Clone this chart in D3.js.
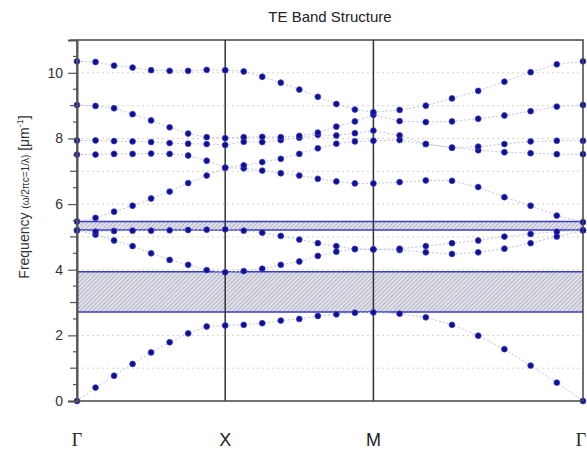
<!DOCTYPE html>
<html>
<head>
<meta charset="utf-8">
<script src="https://cdn.jsdelivr.net/npm/d3@7"></script>
<style>
  body { margin: 0; background: #fff; }
  svg { display: block; font-family: "Liberation Sans", Arial, sans-serif; }
</style>
</head>
<body>
<svg id="chart" width="587" height="451"></svg>
<script>
// symmetry points along the path
var kLabels = ["\u0393", "X", "M", "\u0393"];
var kStops = [0, 1, 2, 2 + Math.SQRT2];

// bands, 9 samples per segment (Γ-X, X-M, M-Γ)
var bandsGX = [
    [0, 0.41, 0.77, 1.13, 1.48, 1.79, 2.06, 2.27, 2.30],
    [5.20, 5.07, 4.89, 4.72, 4.50, 4.30, 4.15, 3.99, 3.92],
    [5.20, 5.16, 5.18, 5.19, 5.19, 5.20, 5.21, 5.22, 5.23],
    [5.47, 5.58, 5.77, 5.95, 6.17, 6.38, 6.64, 6.87, 7.11],
    [7.51, 7.51, 7.53, 7.53, 7.54, 7.53, 7.48, 7.32, 7.11],
    [7.94, 7.94, 7.92, 7.91, 7.89, 7.86, 7.84, 7.83, 7.80],
    [9.02, 8.99, 8.92, 8.74, 8.55, 8.34, 8.15, 8.04, 8.01],
    [10.35, 10.33, 10.22, 10.16, 10.08, 10.06, 10.06, 10.09, 10.08]
];
var bandsXM = [
    [2.30, 2.32, 2.37, 2.45, 2.50, 2.59, 2.64, 2.69, 2.70],
    [3.92, 3.96, 4.03, 4.15, 4.25, 4.42, 4.55, 4.63, 4.62],
    [5.23, 5.19, 5.13, 5.03, 4.92, 4.81, 4.72, 4.63, 4.62],
    [7.11, 7.09, 7.02, 6.94, 6.87, 6.77, 6.69, 6.63, 6.63],
    [7.11, 7.18, 7.28, 7.38, 7.53, 7.70, 7.84, 7.91, 7.93],
    [7.80, 7.90, 7.89, 7.95, 8.02, 8.11, 8.09, 8.16, 8.24],
    [8.01, 8.04, 8.05, 8.04, 8.08, 8.18, 8.36, 8.52, 8.72],
    [10.08, 10.04, 9.88, 9.70, 9.49, 9.27, 9.05, 8.88, 8.80]
];
var bandsMG = [
    [2.70, 2.66, 2.55, 2.32, 1.99, 1.58, 1.08, 0.56, 0],
    [4.62, 4.60, 4.53, 4.48, 4.53, 4.64, 4.81, 5.01, 5.20],
    [4.62, 4.64, 4.72, 4.81, 4.89, 5.01, 5.09, 5.16, 5.20],
    [6.63, 6.67, 6.72, 6.71, 6.52, 6.21, 5.95, 5.65, 5.45],
    [7.93, 7.95, 7.83, 7.72, 7.64, 7.58, 7.55, 7.52, 7.52],
    [8.24, 8.09, 7.83, 7.72, 7.75, 7.83, 7.91, 7.93, 7.93],
    [8.72, 8.53, 8.50, 8.52, 8.60, 8.70, 8.83, 8.97, 9.02],
    [8.80, 8.87, 9.00, 9.22, 9.45, 9.73, 10.02, 10.26, 10.35]
];

// photonic band gaps
var gaps = [[2.71, 3.94], [5.21, 5.47]];

var yTicks = [0, 2, 4, 6, 8, 10];
var gridValues = [1, 2, 3, 4, 5, 6, 7, 8, 9, 10];

var svg = d3.select("#chart");
var x = d3.scaleLinear().domain([0, kStops[3]]).range([77, 583]);
var y = d3.scaleLinear().domain([0, 11]).range([401, 40]);

// hatch for the gaps
var defs = svg.append("defs");
var pat = defs.append("pattern")
    .attr("id", "hatch")
    .attr("patternUnits", "userSpaceOnUse")
    .attr("width", 3).attr("height", 3)
    .attr("patternTransform", "rotate(45)");
pat.append("rect").attr("width", 3).attr("height", 3).attr("fill", "#e2e2ea");
pat.append("line").attr("x1", 0).attr("y1", 0).attr("x2", 0).attr("y2", 3)
    .attr("stroke", "#9494ae").attr("stroke-width", 1.2);

// grid
svg.append("g").selectAll("line")
    .data(gridValues)
    .enter().append("line")
    .attr("x1", x(0)).attr("x2", x(kStops[3]))
    .attr("y1", function (d) { return y(d); })
    .attr("y2", function (d) { return y(d); })
    .attr("stroke", "#d6d6c4")
    .attr("stroke-dasharray", "2,3");

// gaps
var gapG = svg.append("g");
gapG.selectAll("rect")
    .data(gaps)
    .enter().append("rect")
    .attr("x", x(0)).attr("width", x(kStops[3]) - x(0))
    .attr("y", function (d) { return y(d[1]); })
    .attr("height", function (d) { return y(d[0]) - y(d[1]); })
    .attr("fill", "url(#hatch)");
gapG.selectAll("line")
    .data(d3.merge(gaps))
    .enter().append("line")
    .attr("x1", x(0)).attr("x2", x(kStops[3]))
    .attr("y1", function (d) { return y(d); })
    .attr("y2", function (d) { return y(d); })
    .attr("stroke", "#3a3ac4")
    .attr("stroke-width", 1.5);

// join segments into one list of points per band
var segs = [bandsGX, bandsXM, bandsMG];
var bands = d3.range(8).map(function (b) {
    var pts = [];
    segs.forEach(function (seg, s) {
        seg[b].forEach(function (v, i) {
            if (s > 0 && i == 0) return;
            var k = kStops[s] + (kStops[s + 1] - kStops[s]) * i / 8;
            pts.push([k, v]);
        });
    });
    return pts;
});

var line = d3.line()
    .x(function (d) { return x(d[0]); })
    .y(function (d) { return y(d[1]); });

svg.append("g").selectAll("path")
    .data(bands)
    .enter().append("path")
    .attr("d", line)
    .attr("fill", "none")
    .attr("stroke", "#c2c4d8")
    .attr("stroke-dasharray", "2,2");

// symmetry point dividers
svg.append("g").selectAll("line")
    .data([kStops[1], kStops[2]])
    .enter().append("line")
    .attr("x1", function (d) { return x(d); })
    .attr("x2", function (d) { return x(d); })
    .attr("y1", y(11)).attr("y2", y(0))
    .attr("stroke", "#333")
    .attr("stroke-width", 1.5);

// points
svg.append("g").selectAll("g")
    .data(bands)
    .enter().append("g")
    .selectAll("circle")
    .data(function (d) { return d; })
    .enter().append("circle")
    .attr("cx", function (d) { return x(d[0]); })
    .attr("cy", function (d) { return y(d[1]); })
    .attr("r", 2.9)
    .attr("fill", "#10108a")
    .attr("stroke", "#3c3cd8")
    .attr("stroke-width", 0.8);

// frame
svg.append("rect")
    .attr("x", x(0)).attr("y", y(11))
    .attr("width", x(kStops[3]) - x(0))
    .attr("height", y(0) - y(11))
    .attr("fill", "none")
    .attr("stroke", "#444")
    .attr("stroke-width", 1.5);

// y axis
var yAxis = svg.append("g")
    .attr("transform", "translate(" + x(0) + ",0)")
    .call(d3.axisLeft(y).tickValues(yTicks).tickSize(9).tickPadding(5));
yAxis.select(".domain").attr("stroke", "#555").attr("stroke-width", 2);
yAxis.selectAll(".tick line").attr("stroke", "#555").attr("stroke-width", 1.2);
yAxis.selectAll("text").attr("font-size", 14).attr("fill", "#333")
    .attr("font-family", "Liberation Sans, Arial, sans-serif");

var minor = d3.range(0, 11.01, 0.5).filter(function (v) { return yTicks.indexOf(v) < 0; });
svg.append("g").selectAll("line")
    .data(minor)
    .enter().append("line")
    .attr("x1", function (d) { return x(0) - (d % 1 == 0 ? 7 : 4); })
    .attr("x2", x(0))
    .attr("y1", function (d) { return y(d); })
    .attr("y2", function (d) { return y(d); })
    .attr("stroke", "#555")
    .attr("stroke-width", 1.2);

// k labels
svg.append("g").selectAll("text")
    .data(kStops)
    .enter().append("text")
    .attr("x", function (d, i) { return i == 3 ? x(d) - 2 : x(d); })
    .attr("y", 446)
    .attr("text-anchor", "middle")
    .attr("font-size", 18)
    .attr("fill", "#222")
    .attr("font-family", function (d, i) {
        return kLabels[i] == "\u0393" ? "Liberation Serif, serif" : "Liberation Sans, Arial, sans-serif";
    })
    .text(function (d, i) { return kLabels[i]; });

// title
svg.append("text")
    .attr("x", 330).attr("y", 22)
    .attr("text-anchor", "middle")
    .attr("font-size", 15)
    .attr("fill", "#222")
    .text("TE Band Structure");

// y label
var yl = svg.append("text")
    .attr("transform", "translate(29," + 197 + ") rotate(-90)")
    .attr("text-anchor", "middle")
    .attr("font-size", 14)
    .attr("fill", "#333");
yl.append("tspan").text("Frequency ");
yl.append("tspan").attr("font-size", 10).text("(\u03c9/2\u03c0c=1/\u03bb)");
yl.append("tspan").text(" [\u03bcm");
yl.append("tspan").attr("font-size", 9).attr("dy", -6).text("-1");
yl.append("tspan").attr("dy", 6).text("]");
</script>
</body>
</html>
